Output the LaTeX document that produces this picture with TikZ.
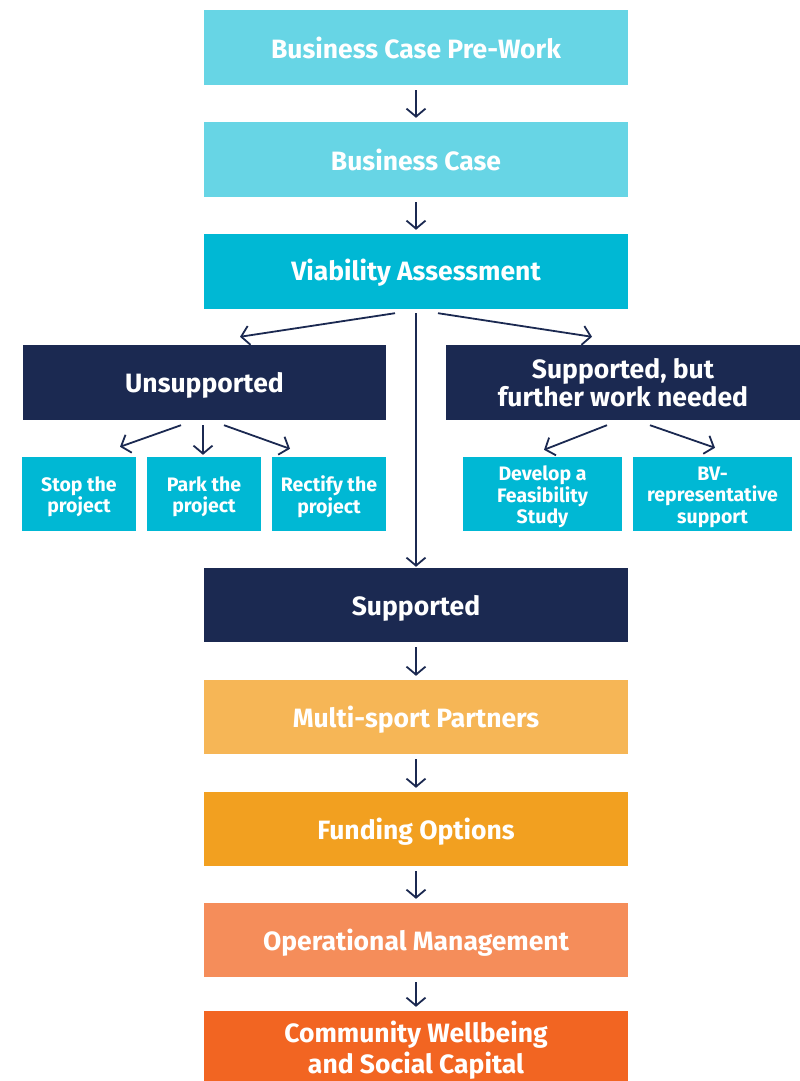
\documentclass[tikz,border=0pt]{standalone}
\usepackage{fontspec}
\setmainfont{Fira Sans}
\usetikzlibrary{arrows.meta}
\definecolor{lcyan}{HTML}{67D5E5}
\definecolor{dcyan}{HTML}{00B8D4}
\definecolor{navy}{HTML}{1B2951}
\definecolor{ora1}{HTML}{F6B656}
\definecolor{ora2}{HTML}{F2A020}
\definecolor{ora3}{HTML}{F58D5A}
\definecolor{ora4}{HTML}{F26522}
\tikzset{
  bigtxt/.style={text=white, inner sep=0pt, align=center, yshift=-3pt, font=\fontsize{26.5}{28.5}\selectfont\bfseries},
  smalltxt/.style={text=white, inner sep=0pt, align=center, yshift=-3pt, font=\fontsize{19.5}{21.5}\selectfont\bfseries},
  wide/.style={fill=#1, minimum width=424pt, minimum height=75pt, inner sep=0pt},
  side/.style={fill=#1, minimum height=75pt, inner sep=0pt},
  small/.style={fill=dcyan, minimum height=74pt, inner sep=0pt},
  arr/.style={draw=navy, line width=1.8pt, -{Straight Barb[length=8pt, width=19pt, line width=1.8pt]}}
}
\begin{document}
\begin{tikzpicture}[x=1pt,y=-1pt]
\useasboundingbox (0,0) rectangle (800,1081);
\node[wide=lcyan, label={[bigtxt, yshift=3pt]center:Business Case Pre-Work}] (pre) at (416,47.5) {};
\node[wide=lcyan, label={[bigtxt, yshift=3pt]center:Business Case}] (bc) at (416,159.5) {};
\node[wide=dcyan, label={[bigtxt, yshift=1.5pt]center:Viability Assessment}] (via) at (416,271.5) {};
\node[side=navy, minimum width=363pt, label={[bigtxt]center:Unsupported}] (uns) at (204.5,382.5) {};
\node[side=navy, minimum width=354pt, label={[bigtxt, yshift=3pt]center:{Supported, but\\further work needed}}] (sbw) at (623,382.5) {};
\node[small, minimum width=114pt, label={[smalltxt]center:{Stop the\\project}}] (stop) at (79,494) {};
\node[small, minimum width=114pt, label={[smalltxt]center:{Park the\\project}}] (park) at (204,494) {};
\node[small, minimum width=114pt, label={[smalltxt]center:{Rectify the\\project}}] (rect) at (329,494) {};
\node[small, minimum width=159pt, label={[smalltxt]center:{Develop a\\Feasibility\\Study}}] (dev) at (542.5,494) {};
\node[small, minimum width=159pt, label={[smalltxt]center:{BV-\\representative\\support}}] (bv) at (712.5,494) {};
\node[wide=navy, minimum height=74pt, label={[bigtxt]center:Supported}] (sup) at (416,605) {};
\node[wide=ora1, minimum height=74pt, label={[bigtxt]center:Multi-sport Partners}] (msp) at (416,717) {};
\node[wide=ora2, minimum height=74pt, label={[bigtxt]center:Funding Options}] (fund) at (416,829) {};
\node[wide=ora3, minimum height=74pt, label={[bigtxt]center:Operational Management}] (op) at (416,940) {};
\node[wide=ora4, minimum height=70pt, label={[bigtxt, yshift=-1pt, font=\fontsize{26.5}{31}\selectfont\bfseries]center:{Community Wellbeing\\and Social Capital}}] (cw) at (416,1046) {};
% vertical arrows
\draw[arr] ([yshift=-5pt]pre.south) -- ([yshift=4pt]bc.north);
\draw[arr] ([yshift=-5pt]bc.south) -- ([yshift=4pt]via.north);
\draw[arr] ([yshift=-5pt]sup.south) -- ([yshift=4pt]msp.north);
\draw[arr] ([yshift=-5pt]msp.south) -- ([yshift=4pt]fund.north);
\draw[arr] ([yshift=-5pt]fund.south) -- ([yshift=4pt]op.north);
\draw[arr] ([yshift=-5pt]op.south) -- ([yshift=4pt]cw.north);
% from viability
\draw[arr] ([xshift=-21pt,yshift=-4pt]via.south) -- ([xshift=35.5pt,yshift=8pt]uns.north);
\draw[arr] ([yshift=-4pt]via.south) -- ([yshift=1pt]sup.north);
\draw[arr] ([xshift=22pt,yshift=-4pt]via.south) -- ([xshift=-31pt,yshift=8pt]sbw.north);
% under unsupported
\draw[arr] ([xshift=-23.5pt,yshift=-5pt]uns.south) -- ([xshift=41pt,yshift=10pt]stop.north);
\draw[arr] ([xshift=-1.5pt,yshift=-5pt]uns.south) -- ([xshift=-1pt,yshift=2pt]park.north);
\draw[arr] ([xshift=19.5pt,yshift=-5pt]uns.south) -- ([xshift=-39pt,yshift=8pt]rect.north);
% under supported but
\draw[arr] ([xshift=-16pt,yshift=-5pt]sbw.south) -- ([xshift=1.5pt,yshift=7pt]dev.north);
\draw[arr] ([xshift=27pt,yshift=-5pt]sbw.south) -- ([xshift=2.5pt,yshift=9pt]bv.north);
\end{tikzpicture}
\end{document}
